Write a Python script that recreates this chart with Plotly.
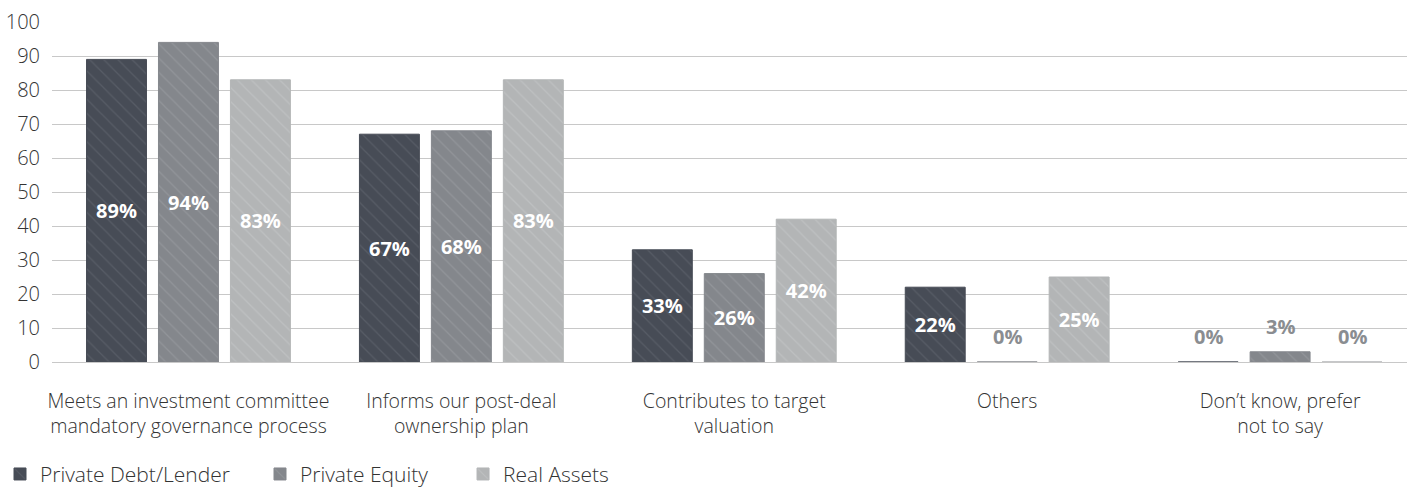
import plotly.graph_objects as go

categories = [
    "Meets an investment committee<br>mandatory governance process",
    "Informs our post-deal<br>ownership plan",
    "Contributes to target<br>valuation",
    "Others",
    "Don’t know, prefer<br>not to say",
]
series_names = ["Private Debt/Lender", "Private Equity", "Real Assets"]
debt = [89, 67, 33, 22, 0]
equity = [94, 68, 26, 0, 3]
real = [83, 83, 42, 25, 0]
y_ticks = [0, 10, 20, 30, 40, 50, 60, 70, 80, 90, 100]

colors = ["#474c56", "#84878c", "#b3b5b6"]
hatch = ["#676c75", "#a0a3a7", "#c9cbcc"]
legend_ids = ["legend", "legend2", "legend3"]
legend_x = [-0.0014, 0.1848, 0.3291]

FONT = "Open Sans"
fig = go.Figure()
for name, vals, c, h, lid in zip(series_names, [debt, equity, real], colors, hatch, legend_ids):
    inside = [f"{v}%" if v >= 10 else "" for v in vals]
    fig.add_trace(go.Bar(
        x=list(range(len(categories))), y=vals, name=name, legend=lid,
        marker=dict(color=c, line=dict(color=c, width=1),
                    pattern=dict(shape="\\", fgcolor=h, size=10, solidity=0.12)),
        text=inside, textposition="inside", insidetextanchor="middle",
        textfont=dict(family=FONT, size=20, color="white", weight="bold"),
        cliponaxis=False,
    ))

# outside labels for small values, placed at the bar offsets
offsets = [-0.2637, 0.0, 0.2637]
for vals, off in zip([debt, equity, real], offsets):
    for i, v in enumerate(vals):
        if v < 10:
            fig.add_annotation(x=i + off, y=v, text=f"{v}%", showarrow=False,
                               yanchor="bottom", yshift=10,
                               font=dict(family=FONT, size=20, color="#8a8d91", weight="bold"))

legend_style = dict(orientation="h", xref="container", yref="container",
                    xanchor="left", yanchor="middle", y=0.03,
                    font=dict(family=FONT, size=21, color="#333333", weight=300),
                    itemwidth=30, bgcolor="rgba(0,0,0,0)")
fig.update_layout(
    width=1407, height=489,
    margin=dict(l=52, r=0, t=22, b=127, autoexpand=False),
    paper_bgcolor="white", plot_bgcolor="white",
    barmode="group", bargap=0.209, bargroupgap=0.167,
    font=dict(family=FONT, size=19, color="#333333", weight=300),
    showlegend=True,
    legend=dict(x=legend_x[0], **legend_style),
    legend2=dict(x=legend_x[1], **legend_style),
    legend3=dict(x=legend_x[2], **legend_style),
)
fig.update_xaxes(
    tickmode="array", tickvals=list(range(len(categories))), ticktext=categories,
    range=[-0.5, 4.465], showgrid=False, zeroline=False, showline=False,
    tickfont=dict(family=FONT, size=19.5, color="#333333", weight=300), ticks="",
    ticklabelstandoff=25, automargin=False,
)
fig.update_yaxes(
    range=[0, 100], tickvals=y_ticks, showgrid=True, gridcolor="#c8c8c8", gridwidth=1,
    zeroline=True, zerolinecolor="#c8c8c8", zerolinewidth=1,
    tickfont=dict(family=FONT, size=20, color="#333333", weight=300), ticks="",
    ticklabelstandoff=11, automargin=False,
)

fig.write_html("out.html", config={"displayModeBar": False},
               post_script="document.body.style.margin='0px';")
